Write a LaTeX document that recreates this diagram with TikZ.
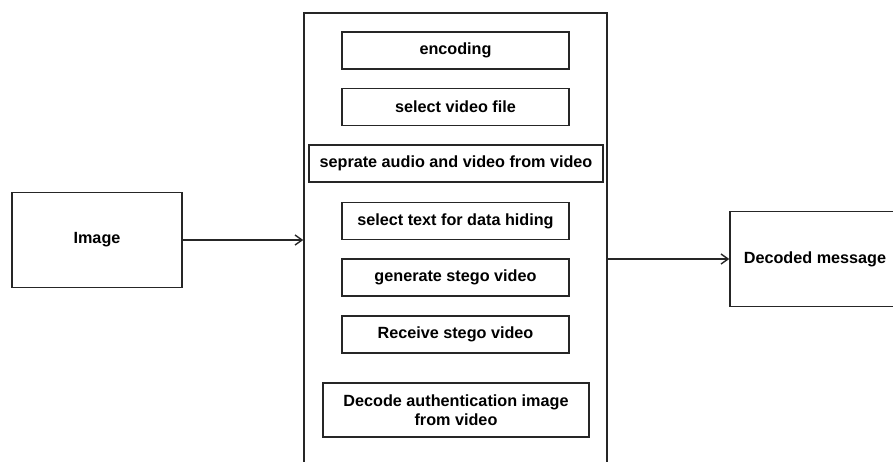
\documentclass[tikz,border=0pt]{standalone}
\usepackage{fontspec}
\setmainfont{Liberation Sans}
\usetikzlibrary{positioning, arrows.meta}

\begin{document}
\begin{tikzpicture}[
    x=1pt, y=-1pt,
    font=\bfseries\fontsize{16.2}{19}\selectfont,
    box/.style={draw=black!85, line width=1.5pt, align=center, inner sep=0pt},
    outer/.style={box, minimum width=170pt, minimum height=95pt},
    stepbox/.style={box, minimum width=227pt, minimum height=37pt},
    arrow/.style={-{Straight Barb[length=7pt, width=10pt]}, line width=1.4pt, draw=black!85}
  ]

  % page frame, the container and the output box run past it
  \clip (0,0) rectangle (893,461);

  % input and output
  \node[outer] (image) at (97,240) {Image};
  \node[outer] (decoded) at (815,259) {Decoded message};

  % container with the processing steps
  \node[box, minimum width=303pt, minimum height=480pt] (system) at (455.5,253) {};

  \node[stepbox] (encoding) at (455.5,50.5) {encoding};
  \node[stepbox] (select) at (455.5,107) {select video file};
  \node[stepbox, minimum width=294pt] (separate) at (456,163.5) {seprate audio and video from video};
  \node[stepbox] (hiding) at (455.5,221) {select text for data hiding};
  \node[stepbox] (generate) at (455.5,277.5) {generate stego video};
  \node[stepbox] (receive) at (455.5,334.5) {Receive stego video};
  \node[stepbox, minimum width=266pt, minimum height=54pt] (decode) at (456,410) {Decode authentication image\\from video};

  \draw[arrow] (image.east) -- (image.east -| system.west);
  \draw[arrow] (decoded.west -| system.east) -- (decoded.west);

\end{tikzpicture}
\end{document}
